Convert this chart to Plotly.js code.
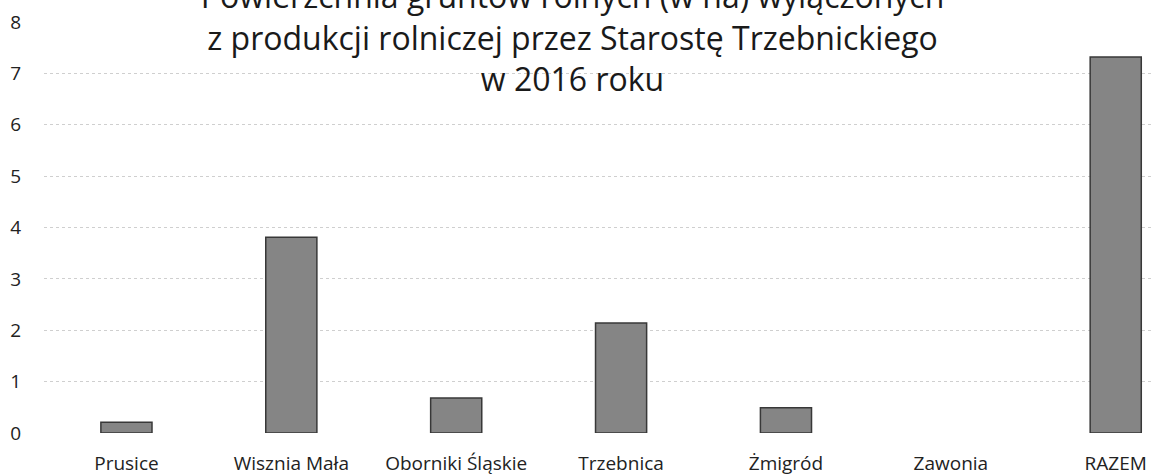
<!DOCTYPE html>
<html>
<head>
<meta charset="utf-8">
<script src="https://cdn.plot.ly/plotly-3.0.1.min.js"></script>
<style>html,body{margin:0;padding:0;background:#fff;overflow:hidden}#chart{width:1152px;height:475px}</style>
</head>
<body>
<div id="chart"></div>
<script>
const categories = ["Prusice", "Wisznia Mała", "Oborniki Śląskie", "Trzebnica", "Żmigród", "Zawonia", "RAZEM"];
const values = [0.21, 3.81, 0.68, 2.14, 0.49, 0, 7.32];
const titleLines = ["Powierzchnia gruntów rolnych (w ha) wyłączonych", "z produkcji rolniczej przez Starostę Trzebnickiego", "w 2016 roku"];
const yTicks = [0, 1, 2, 3, 4, 5, 6, 7, 8];

const font = "Open Sans, Noto Sans, sans-serif";
Plotly.newPlot("chart", [{
  type: "bar",
  x: categories,
  y: values,
  width: 0.31,
  marker: {color: "#858585", line: {color: "#383838", width: values.map(v => v === 0 ? 0 : 1.5)}},
  hoverinfo: "x+y"
}], {
  width: 1152, height: 475,
  margin: {l: 44, r: 0, t: 22, b: 42},
  paper_bgcolor: "#ffffff", plot_bgcolor: "#ffffff",
  showlegend: false,
  title: {
    text: titleLines.join("<br>"),
    font: {family: font, size: 32, color: "#1a1a1a"},
    x: 0.497, xanchor: "center", xref: "container",
    y: 1 - 8/475, yanchor: "middle", yref: "container",
    automargin: false
  },
  xaxis: {
    type: "category",
    range: [-0.5, 6.22],
    showgrid: false, zeroline: false, showline: false,
    ticks: "", ticklabelstandoff: 17,
    tickfont: {family: font, size: 19, color: "#222"}
  },
  yaxis: {
    range: [0, 8],
    tickvals: yTicks,
    showgrid: true, gridcolor: "#cfcfcf", gridwidth: 1, griddash: "dot",
    zeroline: false, showline: false,
    ticks: "", ticklabelstandoff: 22,
    tickfont: {family: font, size: 19, color: "#222"}
  }
}, {displayModeBar: false, staticPlot: true});
</script>
</body>
</html>
